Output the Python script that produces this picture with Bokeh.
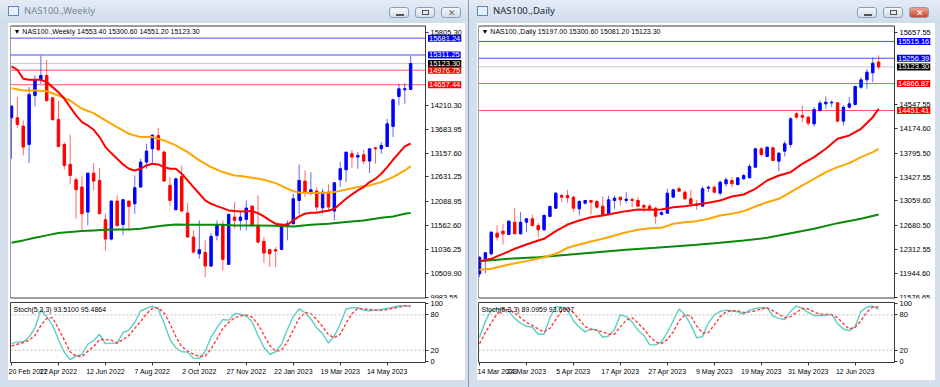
from bokeh.plotting import figure
from bokeh.layouts import row, column
from bokeh.models import Div, Label, Span, FixedTicker, ColumnDataSource, Range1d
from bokeh.embed import file_html
from bokeh.resources import INLINE

# ---------------- weekly data (NAS100., Weekly) ----------------
w_open = [13932,13932,13749,13346,14422,14766,14861,14371,13895,13346, 12907,12570,12409,11860,12717,12556,11692,11267,12102,11585,
          12102,12043,12409,12958,13251,13544,13178,12446,11911,12643, 11838,11311,10945,10974,10674,11348,11567,10711,11750,11677,
          11699,11992,11567,11216,11033,11033,11040,11545,11604,12116, 12541,12299,12321,11955,12299,11882,12570,12790,13141,13068,
          13119,12980,13273,13251,13302,13741,14400,14547,14553.4]
w_high = [14203,14386,13873,14605,14861,15300,15205,14386,14298,13400, 13558,12629,12643,12717,12936,12834,11824,12116,12226,12153,
          12116,12665,13031,13361,13566,13712,13214,12629,12614,12885, 12058,11458,11677,11238,11399,11677,11677,11824,12080,11897,
          12116,12007,12226,11311,11055,11092,11619,11677,12263,12907, 12775,12739,12409,12373,12468,12519,12958,13178,13229,13178,
          13229,13251,13288,13397,13910,14349,14678,14693,15300.6]
w_low = [13031,13712,13105,12936,14181,14678,14276,13873,13288,12790, 12468,11714,11472,11567,12336,11809,11018,11238,11531,11348,
         11458,11824,12409,12812,12936,13200,12519,11992,11897,11875, 11297,10945,10835,10433,10652,11238,10579,10711,11494,11458,
         11458,11531,11165,10740,10652,10652,11018,11238,11589,11809, 12190,12226,11882,11824,11897,11677,12409,12519,12834,12812,
         12907,12717,12922,13141,13288,13507,14203,14239,14551.2]
w_close = [14188,13785,13288,14444,14766,14861,14312,13888,13302,12885, 12665,12351,11824,12717,12541,11824,11267,12102,11567,12131,
           11985,12395,12958,13200,13551,13229,12541,12116,12592,11882, 11311,10982,11033,10674,11326,11567,10821,11809,11677,11750,
           11948,11567,11201,10960,10945,11004,11531,11604,12153,12556, 12299,12351,11970,12299,11970,12504,12812,13178,13068,13105,
           12980,13251,13251,13324,13800,14327,14569,14569,15123.3]

w_red_x = [1,2,3,4,6,7,8,9,10,11,12,13,14,15,16,17,18,19,20,21,22,23,24,25,26,27,28,29,30,31,32,33,34,35,36,37,38,39,40,
           42,43,44,45,46,47,48,49,50,51,52,53,54,55,56,57,58,59,60,61,62,63,64,65,66,67,68,69]
w_red_y = [15059,14986,14788,14766,14766,14715,14605,14495,14349, 14166,13983,13837,13763,13668,13507,13288,13156,13031,12907,
           12812,12775,12812,12885,12922,12907,12848,12812,12812,12702, 12556,12409,12263,12116,12043,11992,11948,11897,11882,11875,
           11882,11838,11765,11677,11604,11582,11582,11677,11765,11824, 11845,11845,11875,11889,11933,12043,12153,12248,12336,12409,
           12519,12592,12702,12848,13009,13156,13302,13367]
w_org_x = [1,3,5,7,9,11,13,15,17,19,21,23,25,27,29,31,33,35,37,39,40,42,44,46,48,49,50,52,54,56,58,60,62,64,66,68,69]
w_org_y = [14583,14532,14532,14517,14422,14312,14129,14034,13873,13727, 13580,13507,13507,13434,13324,13178,12995,12848,12739,12665,
           12654,12614,12570,12497,12373,12321,12292,12277,12277,12299, 12358,12409,12446,12519,12629,12775,12870]
w_grn_x = [1,3,5,7,9,11,13,15,17,19,21,23,25,27,29,31,33,35,37,39,43,46,49,52,55,58,61,64,66,68,69]
w_grn_y = [11187,11238,11297,11348,11399,11421,11443,11458,11472,11480, 11480,11494,11531,11567,11589,11582,11582,11582,11582,11567,
           11567,11560,11545,11582,11604,11641,11677,11736,11765,11824,11838]

w_stoch_k = [31,34,34,42,58,88,77,62,38,16, 4,10,13,30,36,47,31,32,32,50, 54,67,87,91,95,90,66,38,24,17,
             17,6,6,18,42,58,72,71,82,81, 78,68,45,25,13,17,30,55,77,90, 84,73,58,48,32,44,64,90,92,92,
             88,87,88,89,91,93,95,96,93.51]
w_stoch_d = [27,30,33,37,45,62,74,75,57,37, 17,10,9,18,26,38,38,37,32,38, 45,57,69,82,91,92,83,65,43,26,
             19,13,9,10,22,39,57,67,75,78, 80,76,64,46,28,18,20,34,54,74, 84,82,72,60,46,41,47,66,82,91,
             90,89,88,88,89,91,93,95,95.49]

w_price_ticks = ["15805.30", "14210.30", "13683.95", "13157.60", "12631.25", "12088.95", "11562.60", "11036.25", "10509.90", "9983.55"]
w_date_pos = [1, 9, 17, 25, 33, 41, 49, 57, 65]
w_date_lbl = ["20 Feb 2022", "17 Apr 2022", "12 Jun 2022", "7 Aug 2022", "2 Oct 2022", "27 Nov 2022", "22 Jan 2023", "19 Mar 2023", "14 May 2023"]
w_levels = [15681.24, 15311.25, 15123.30, 14976.75, 14657.44]
w_level_kind = ["blue", "blue", "price", "red", "red"]

# ---------------- daily data (NAS100., Daily) ----------------
d_open = [11937,12168,12245,12563,12594,12542,12732,12553,12732,12784, 12681,12614,12820,12948,13143,13143,13117,12938,13025,13066,
          13050,12979,12850,13066,13117,13066,13081,13066,12989,12979, 12948,12850,12871,13117,13246,13194,13092,13015,12979,13256,
          13271,13179,13323,13374,13312,13400,13415,13579,13862,13744, 13877,13672,13826,13928,14401,14375,14349,14247,14452,14555,
          14570,14570,14288,14503,14544,14811,14924,15032,15197.0]
d_high = [12204,12270,12594,12681,12707,12758,12948,12886,12794,12850, 12717,12861,12989,13194,13169,13230,13143,13076,13076,13076,
          13076,13128,13143,13143,13117,13194,13117,13117,13015,13015, 12963,12897,13246,13246,13282,13220,13230,13076,13287,13297,
          13297,13374,13425,13425,13425,13477,13631,13877,13887,13898, 13898,13810,13980,14349,14426,14529,14375,14503,14606,14667,
          14606,14580,14529,14657,14837,14965,15094,15263,15300.6]
d_low = [11885,11947,12219,12450,12388,12537,12542,12542,12578,12666, 12501,12604,12809,12938,13040,13025,12886,12835,13004,12850,
         12938,12835,12835,12938,12989,13025,12963,12963,12886,12902, 12707,12835,12861,13117,13194,13076,12989,12922,12974,13194,
         13179,13143,13282,13271,13297,13384,13415,13569,13744,13733, 13672,13518,13744,13877,14324,14272,14221,14206,14426,14478,
         14503,14272,14221,14478,14529,14786,14786,14888,15081.2]
d_close = [12193,12260,12578,12501,12553,12748,12553,12732,12784,12681, 12614,12835,12974,13179,13117,13107,12948,13050,13066,13040,
           12963,12835,13076,13102,13076,13087,13066,12979,12963,12938, 12825,12881,13179,13230,13210,13092,13015,12989,13246,13271,
           13194,13348,13384,13323,13415,13451,13590,13862,13774,13887, 13682,13795,13939,14324,14349,14349,14257,14467,14565,14580,
           14580,14288,14503,14555,14821,14924,15042,15181,15123.3]

d_red_x = [1,3,5,7,9,11,12,14,16,18,20,22,24,26,28,30,32,34,36,38,40,42,44,46,48,50,52,54,56,58,60,62,64,66,68,69]
d_red_y = [12132,12168,12245,12322,12388,12450,12476, 12594,12696,12758,12809,12835,12871,12902,12927,12922,12927,
           12963,12979,13004,13030,13066,13128,13158,13246,13374,13451, 13502,13631,13733,13862,14016,14067,14170,14349,14478]
d_org_x = [1,3,6,9,12,14,16,18,20,22,24,26,28,30,32,34,36,38,40,42,44,46,48,50,52,54,56,58,60,62,64,66,68,69]
d_org_y = [12000,12014,12080,12132,12193, 12245,12337,12388,12435,12476,12527,12578,12614,12640,12645,
           12707,12732,12748,12784,12835,12861,12902,12974,13040,13092, 13194,13297,13400,13502,13579,13641,13733,13810,13862]
d_grn_x = [1,6,11,16,21,26,31,34,38,42,46,50,54,58,62,66,69]
d_grn_y = [12132,12168,12193,12229,12270,12306,12337,12358,12383,12414,12450,12491,12563,12630,12717,12784,12850]

d_stoch_k = [42,69,88,90,90,86,74,66,61,59, 47,47,75,94,93,88,70,59,51,56, 54,42,44,55,80,77,68,54,45,29,
             29,34,50,70,90,80,63,41,43,66, 80,86,88,87,85,81,88,91,92,92, 78,74,72,86,95,91,84,79,79,79,
             81,65,56,53,60,86,93,95,89.10]
d_stoch_d = [31,50,66,82,89,89,83,75,67,62, 56,51,57,72,87,92,84,72,60,55, 54,51,47,47,60,71,75,66,56,43,
             34,31,38,51,70,80,78,61,49,50, 63,77,85,87,87,84,85,87,90,92, 87,81,75,77,84,91,90,85,81,81,
             80,75,65,56,59,70,85,93,93.60]

d_price_ticks = ["15657.55", "14547.55", "14174.60", "13795.50", "13427.55", "13059.60", "12680.50", "12312.55", "11944.60", "11576.65"]
d_date_pos = [1, 9, 17, 25, 33, 41, 49, 57, 65]
d_date_lbl = ["14 Mar 2023", "24 Mar 2023", "5 Apr 2023", "17 Apr 2023", "27 Apr 2023", "9 May 2023", "19 May 2023", "31 May 2023", "12 Jun 2023"]
d_levels = [15515.16, 15256.39, 15123.30, 14866.87, 14451.41]
d_level_kind = ["blue", "blue", "price", "red", "red"]

stoch_ticks = [100, 80, 20, 0]

# ---------------- styling ----------------
BULL = "#0000ff"
BEAR = "#ff0000"
CHROME = "#d3dfec"
FONT = "Liberation Sans"
FRAME = "#3a3a3a"
LINE_COL = {"blue": "#4b4bff", "red": "#ff5a5a", "price": "#c8c8c8"}
TAG_COL = {"blue": "#0000ff", "red": "#ff0000", "price": "#000000"}
PX_PER_BAR = 5.87
X_START = 0.83


def candle_source(o, h, l, c):
    x = list(range(1, len(o) + 1))
    top = [max(a, b) for a, b in zip(o, c)]
    bot = [min(a, b) for a, b in zip(o, c)]
    col = [BULL if b > a else BEAR for a, b in zip(o, c)]
    return ColumnDataSource(dict(x=x, top=top, bottom=bot, high=h, low=l, color=col))


def style_axis(ax, size="7.5px"):
    ax.axis_line_color = None
    ax.major_tick_line_color = "#333333"
    ax.major_tick_out = 3
    ax.major_tick_in = 0
    ax.minor_tick_line_color = None
    ax.major_label_text_font = FONT
    ax.major_label_text_font_size = size
    ax.major_label_text_color = "#000000"
    ax.major_label_standoff = 2


def build_main(mbl, chart_w, total_w, yr, o, h, l, c, mas, levels, kinds, ticks, title):
    bar_end = X_START + chart_w / PX_PER_BAR
    x_end = X_START + total_w / PX_PER_BAR
    p = figure(frame_width=total_w, frame_height=273, x_range=Range1d(X_START, x_end), y_range=Range1d(*yr),
               output_backend="svg", toolbar_location=None,
               y_axis_location="right", x_axis_location=None,
               min_border_left=mbl, min_border_right=0, min_border_top=2, min_border_bottom=2,
               background_fill_color="white", border_fill_color="white",
               outline_line_color=None)
    p.grid.visible = False
    tvals = [float(t) for t in ticks]
    ax = p.yaxis[0]
    ax.ticker = FixedTicker(ticks=tvals)
    ax.major_label_overrides = {v: t for v, t in zip(tvals, ticks)}
    style_axis(ax)
    ax.fixed_location = bar_end
    # chart frame (left part)
    p.add_layout(Span(location=X_START, dimension="height", line_color=FRAME, line_width=1))
    p.add_layout(Span(location=bar_end, dimension="height", line_color=FRAME, line_width=1))
    p.segment(x0=[X_START, X_START], x1=[bar_end, bar_end], y0=[yr[0], yr[1]], y1=[yr[0], yr[1]],
              line_color=FRAME, line_width=2)
    n = len(levels)
    p.segment(x0=[X_START] * n, x1=[bar_end] * n, y0=levels, y1=levels,
              line_color=[LINE_COL[k] for k in kinds], line_width=1)
    src = candle_source(o, h, l, c)
    p.segment(x0="x", y0="low", x1="x", y1="high", source=src, line_color="color", line_alpha=0.6, line_width=1)
    p.vbar(x="x", width=0.42, top="top", bottom="bottom", source=src,
           fill_color="color", line_color="color", line_width=1)
    for xs, ys, col in mas:
        p.line(xs, ys, line_color=col, line_width=2)
    for lv, k in zip(levels, kinds):
        p.add_layout(Label(x=bar_end + 2.5 / PX_PER_BAR, y=lv, text=f"{lv:.2f}",
                           text_font=FONT, text_font_size="7.5px",
                           text_color="white", text_baseline="middle", text_align="left",
                           background_fill_color=TAG_COL[k], background_fill_alpha=1.0, padding=1))
    p.add_layout(Label(x=3, x_units="screen", y=271, y_units="screen", text=title,
                       text_font=FONT, text_font_size="7px", text_color="#000000",
                       text_baseline="top", text_align="left"))
    return p


def build_stoch(width, mbl, mbr, chart_w, k, d, pos, lbl, title):
    xr = Range1d(X_START, X_START + chart_w / PX_PER_BAR)
    s = figure(width=width, height=80, x_range=xr, y_range=Range1d(-1, 101),
               output_backend="svg", toolbar_location=None,
               y_axis_location="right", x_axis_location="below",
               min_border_left=mbl, min_border_right=mbr, min_border_top=2, min_border_bottom=18,
               background_fill_color="white", border_fill_color="white",
               outline_line_color=FRAME, outline_line_width=1)
    s.grid.visible = False
    s.yaxis.ticker = FixedTicker(ticks=stoch_ticks)
    style_axis(s.yaxis[0])
    s.xaxis.ticker = FixedTicker(ticks=pos)
    s.xaxis.major_label_overrides = {p_: t for p_, t in zip(pos, lbl)}
    style_axis(s.xaxis[0], size="7px")
    s.xaxis.major_label_text_align = "left"
    for lv in (80, 20):
        s.add_layout(Span(location=lv, dimension="width", line_color="#b8b8b8", line_width=1, line_dash="2 2"))
    xs = list(range(1, len(k) + 1))
    s.line(xs, k, line_color="#58cfc4", line_width=1.4)
    s.line(xs, d, line_color="#ff3a3a", line_width=1.4, line_dash="3 2")
    s.add_layout(Label(x=3, x_units="screen", y=57, y_units="screen", text=title,
                       text_font=FONT, text_font_size="7px", text_color="#000000",
                       text_baseline="top", text_align="left"))
    return s


def box(w, h, color=CHROME):
    return Div(text="", width=w, height=h, margin=0, styles={"background-color": color})


def clip(child, w, h):
    return column(child, width=w, height=h, spacing=0, styles={"overflow": "hidden"})


def title_bar(w, text, active, bx):
    col = "#1b2638" if active else "#7b8797"
    btn = ("position:absolute;top:7px;width:20px;height:11px;border:1px solid #8b9db4;border-radius:3px;"
           "background:linear-gradient(#f4f7fb,#d3dde9);")
    close_bg = "linear-gradient(#eaa493,#c4472f)" if active else "linear-gradient(#f4f7fb,#d3dde9)"
    xcol = "#ffffff" if active else "#6b6b6b"
    html = (f'<div style="position:relative;width:{w}px;height:23px;background:linear-gradient(#e4ecf6,#cfdcea);'
            f'font-family:\'Noto Sans\';overflow:hidden">'
            f'<div style="position:absolute;left:8px;top:6px;width:11px;height:10px;border:1px solid #5f86b8;background:#e6f0fb"></div>'
            f'<div style="position:absolute;left:24px;top:4px;font-size:9.5px;color:{col};white-space:nowrap">{text}</div>'
            f'<div style="{btn}left:{bx}px"><div style="position:absolute;left:6px;top:6px;width:8px;height:2px;background:#555"></div></div>'
            f'<div style="{btn}left:{bx + 26}px"><div style="position:absolute;left:6px;top:2px;width:7px;height:5px;border:1px solid #555"></div></div>'
            f'<div style="{btn}left:{bx + 52}px;background:{close_bg}"><div style="position:absolute;left:6px;top:-1px;font-size:9px;color:{xcol}">&#x2715;</div></div>'
            f'</div>')
    return Div(text=html, width=w, height=23, margin=0)


# ---------------- left window (weekly) ----------------
mainL = build_main(2, 415, 455, (9961.6, 15959.0), w_open, w_high, w_low, w_close,
                   [(w_grn_x, w_grn_y, "#0a8a0a"), (w_org_x, w_org_y, "#ffa500"), (w_red_x, w_red_y, "#ff0000")],
                   w_levels, w_level_kind, w_price_ticks,
                   "\u25BC NAS100.,Weekly  14553.40 15300.60 14551.20 15123.30")
stochL = build_stoch(457, 2, 40, 415, w_stoch_k, w_stoch_d, w_date_pos, w_date_lbl,
                     "Stoch(5,3,3) 93.5100 95.4864")

# ---------------- right window (daily) ----------------
mainR = build_main(1, 416, 457, (11556.6, 15760.8), d_open, d_high, d_low, d_close,
                   [(d_grn_x, d_grn_y, "#0a8a0a"), (d_org_x, d_org_y, "#ffa500"), (d_red_x, d_red_y, "#ff0000")],
                   d_levels, d_level_kind, d_price_ticks,
                   "\u25BC NAS100.,Daily  15197.00 15300.60 15081.20 15123.30")
stochR = build_stoch(458, 1, 41, 416, d_stoch_k, d_stoch_d, d_date_pos, d_date_lbl,
                     "Stoch(5,3,3) 89.0959 93.6007")

left_win = column(title_bar(468, "NAS100.,Weekly", False, 389),
                  row(box(8, 357), column(clip(mainL, 457, 277), stochL, spacing=0), box(3, 357), spacing=0),
                  box(468, 7), spacing=0)
right_win = column(title_bar(471, "NAS100.,Daily", True, 388),
                   row(box(8, 357), column(clip(mainR, 458, 277), stochR, spacing=0), box(5, 357), spacing=0),
                   box(471, 7), spacing=0)

root = row(left_win, box(1, 387, "#8a9bb0"), right_win, spacing=0,
           styles={"position": "absolute", "left": "0px", "top": "0px"})

open("out.html", "w").write(file_html(root, INLINE, title="NAS100"))
